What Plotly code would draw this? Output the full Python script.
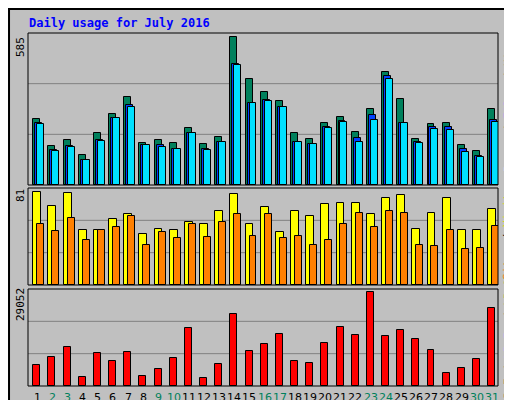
import plotly.graph_objects as go

days = list(range(1, 32))
hits = [263,156,180,120,204,283,347,168,180,168,224,164,192,585,418,367,331,204,184,247,271,208,303,446,339,184,240,244,160,136,303]
files = [247,140,156,101,180,267,315,160,160,144,204,144,172,478,323,335,307,172,164,228,255,188,279,430,244,172,228,228,144,116,259]
pages = [240,136,152,101,176,267,307,160,152,144,204,140,172,476,323,331,307,172,164,224,251,172,259,418,244,168,220,216,132,109,251]
visits = [81,69,80,48,48,57,62,44,49,48,55,53,64,79,53,68,46,64,60,70,71,71,62,76,78,49,63,76,48,48,66]
sites = [53,47,58,39,48,50,60,35,46,41,53,42,55,62,43,62,41,43,35,39,53,63,50,64,63,35,34,48,31,32,51]
kbytes = [6468,9013,12193,2651,10285,7740,10603,2969,5195,8694,17919,2333,6786,22372,10921,13148,16011,7740,7104,13466,18237,15692,29052,15374,17283,14738,11239,3923,5514,8376,24281]
weekend = [2,3,9,10,16,17,23,24,30,31]

W = 0.46
fig = go.Figure()
def bars(vals, shift, color, ya, w=W):
    fig.add_trace(go.Bar(x=[d + shift for d in days], y=vals, width=w, marker=dict(color=color, line=dict(color="black", width=1)),
                         xaxis="x", yaxis=ya, showlegend=False))
bars(hits, 0.08, "#00805c", "y")
bars(files, 0.21, "#0040ff", "y")
bars(pages, 0.34, "#00e0ff", "y")
bars(visits, 0.11, "#ffff00", "y2", 0.52)
bars(sites, 0.34, "#ff8000", "y2")
bars(kbytes, 0.08, "#ff0000", "y3")

dom = [20/512, 490/512]
ax = dict(showgrid=False, zeroline=False, showticklabels=False, fixedrange=True)
fig.update_layout(
    width=512, height=400, margin=dict(l=0, r=0, t=0, b=0),
    paper_bgcolor="#c0c0c0", plot_bgcolor="#c0c0c0", barmode="overlay", bargap=0,
    font=dict(family="DejaVu Sans Mono", size=11, color="black"),
    xaxis=dict(domain=dom, range=[0.5, 31.5], showgrid=False, zeroline=False, anchor="y3", showticklabels=False),
    yaxis=dict(domain=[0.5575, 0.9375], range=[0, 602], **ax),
    yaxis2=dict(domain=[0.3075, 0.55], range=[0, 84.3], **ax),
    yaxis3=dict(domain=[0.055, 0.2975], range=[0, 30100], **ax),
)
shapes = [dict(type="rect", xref="paper", yref="paper", x0=0.002, x1=0.998, y0=0.0025, y1=0.9975, line=dict(color="black", width=2))]
for (y0, y1) in [(0.5575, 0.9375), (0.3075, 0.55), (0.055, 0.2975)]:
    h = y1 - y0
    for f in (1/3, 2/3):
        shapes.append(dict(type="line", xref="paper", yref="paper", x0=dom[0], x1=dom[1], y0=y0 + h*f, y1=y0 + h*f,
                           line=dict(color="#808080", width=1), layer="below"))
    shapes.append(dict(type="rect", xref="paper", yref="paper", x0=dom[0], x1=dom[1], y0=y0, y1=y1,
                       line=dict(color="black", width=1)))
fig.update_layout(shapes=shapes)
ann = [
    dict(text="<b>Daily usage for July 2016</b>", x=19/512, y=1-15/400, xanchor="left",
         font=dict(color="#0000ff", size=12)),
    dict(text="585", x=12/512, y=1-39/400, textangle=-90, font=dict(size=11)),
    dict(text="81", x=12/512, y=1-188/400, textangle=-90, font=dict(size=11)),
    dict(text="29052", x=12/512, y=1-297/400, textangle=-90, font=dict(size=11)),
    dict(text="<span style='color:#00e0ff'>Pages</span> / <span style='color:#0040ff'>Files</span> / <span style='color:#00805c'>Hits</span>",
         x=500/512, y=1-98/400, textangle=-90, font=dict(size=11)),
    dict(text="<span style='color:#ff8000'>Sites</span> / <span style='color:#e0e000'>Visits</span>",
         x=500/512, y=1-226/400, textangle=-90, font=dict(size=11)),
    dict(text="<span style='color:#ff0000'>kB F</span> / <span style='color:#0080ff'>kB In</span> / <span style='color:#00c000'>kB Out</span>",
         x=500/512, y=1-328/400, textangle=-90, font=dict(size=11)),
]
for d in days:
    ann.append(dict(text=str(d), x=d + 0.1, xref="x", y=1-389/400,
                    font=dict(family="DejaVu Sans", size=11, color="#00805c" if d in weekend else "black")))
for a in ann:
    a.setdefault("xref", "paper"); a.setdefault("yref", "paper"); a.setdefault("showarrow", False)
    a.setdefault("xanchor", "center"); a.setdefault("yanchor", "middle")
fig.update_layout(annotations=ann)
fig.write_html("out.html")
